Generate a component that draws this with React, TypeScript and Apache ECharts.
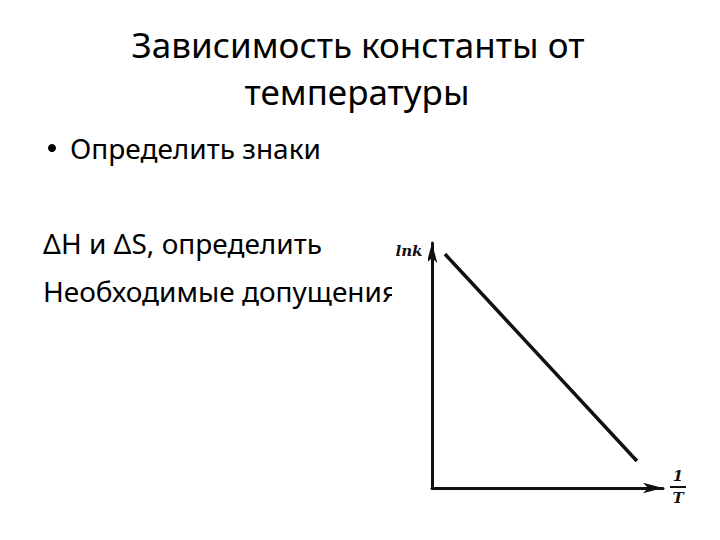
import React, { useEffect, useRef } from "react";
import * as echarts from "echarts";

const titleLines = ["Зависимость константы от", "температуры"];
const bulletText = "Определить знаки";
const bodyLines = ["ΔH и ΔS, определить", "Необходимые допущения"];
const yAxisName = "lnk";
const xAxisNameTop = "1";
const xAxisNameBottom = "T";
const lineX = [0.56, 8.87];
const lineY = [9.55, 1.1];

export default function App() {
  const ref = useRef<HTMLDivElement>(null);
  useEffect(() => {
    document.body.style.margin = "0";
    const chart = echarts.init(ref.current!, null, { renderer: "svg" });
    const font = "'Noto Sans', 'Open Sans', sans-serif";
    const ink = "#111";
    const serif = "italic bold 15px 'DejaVu Serif', serif";
    chart.setOption({
      animation: false,
      backgroundColor: "#fff",
      grid: { left: 432, top: 243, right: 57, bottom: 52 },
      xAxis: {
        type: "value",
        min: 0,
        max: 10,
        axisLine: {
          show: true,
          lineStyle: { color: ink, width: 3 },
          symbol: ["none", "arrow"],
          symbolSize: [8, 20],
        },
        axisTick: { show: false },
        axisLabel: { show: false },
        splitLine: { show: false },
      },
      yAxis: {
        type: "value",
        min: 0,
        max: 10,
        axisLine: {
          show: true,
          lineStyle: { color: ink, width: 3 },
          symbol: ["none", "arrow"],
          symbolSize: [8, 20],
        },
        axisTick: { show: false },
        axisLabel: { show: false },
        splitLine: { show: false },
      },
      series: [
        {
          type: "line",
          data: lineX.map((x, i) => [x, lineY[i]]),
          symbol: "none",
          lineStyle: { color: ink, width: 3.5 },
          silent: true,
        },
      ],
      graphic: [
        {
          type: "text",
          x: 358,
          y: 44,
          style: {
            text: titleLines[0],
            font: `35px ${font}`,
            fill: "#000",
            align: "center",
            verticalAlign: "middle",
          },
        },
        {
          type: "text",
          x: 357,
          y: 91,
          style: {
            text: titleLines[1],
            font: `35px ${font}`,
            fill: "#000",
            align: "center",
            verticalAlign: "middle",
          },
        },
        {
          type: "circle",
          shape: { cx: 52, cy: 148, r: 4 },
          style: { fill: "#000" },
        },
        {
          type: "text",
          x: 70,
          y: 148,
          style: {
            text: bulletText,
            font: `28px ${font}`,
            fill: "#000",
            verticalAlign: "middle",
          },
        },
        {
          type: "text",
          x: 43,
          y: 243,
          style: {
            text: bodyLines[0],
            font: `28px ${font}`,
            fill: "#000",
            verticalAlign: "middle",
          },
        },
        {
          type: "text",
          x: 43,
          y: 291,
          style: {
            text: bodyLines[1],
            font: `28px ${font}`,
            fill: "#000",
            verticalAlign: "middle",
          },
        },
        {
          type: "rect",
          shape: { x: 392, y: 228, width: 36, height: 90 },
          style: { fill: "#fff" },
          z: 10,
        },
        {
          type: "text",
          x: 409,
          y: 251,
          z: 11,
          style: {
            text: yAxisName,
            font: serif,
            fill: ink,
            align: "center",
            verticalAlign: "middle",
          },
        },
        {
          type: "text",
          x: 678,
          y: 476,
          style: {
            text: xAxisNameTop,
            font: serif,
            fill: ink,
            align: "center",
            verticalAlign: "middle",
          },
        },
        {
          type: "line",
          shape: { x1: 670, y1: 487, x2: 686, y2: 487 },
          style: { stroke: ink, lineWidth: 2 },
        },
        {
          type: "text",
          x: 678,
          y: 498,
          style: {
            text: xAxisNameBottom,
            font: serif,
            fill: ink,
            align: "center",
            verticalAlign: "middle",
          },
        },
      ],
    });
    return () => chart.dispose();
  }, []);
  return (
    <div
      ref={ref}
      style={{ position: "absolute", left: 0, top: 0, width: 720, height: 540 }}
    />
  );
}
